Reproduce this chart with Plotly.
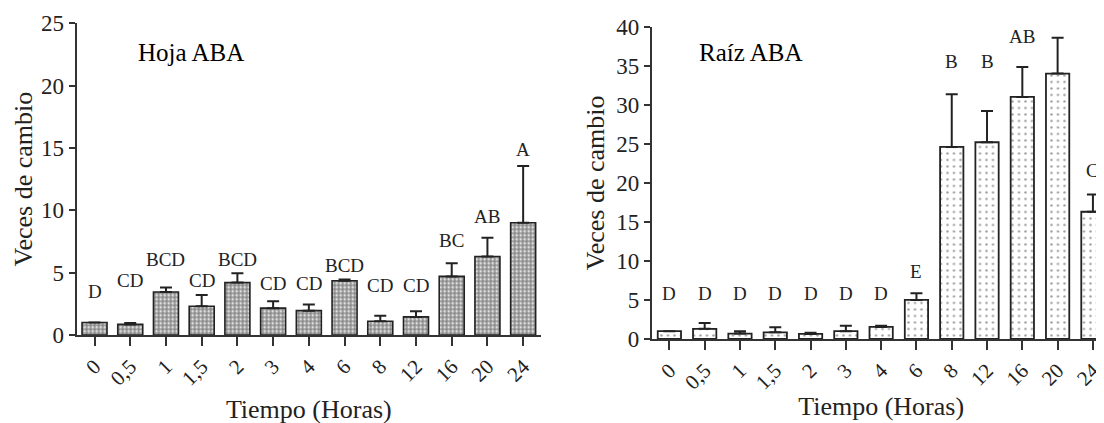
import plotly.graph_objects as go

# ---- data ----
times = ["0", "0,5", "1", "1,5", "2", "3", "4", "6", "8", "12", "16", "20", "24"]

hoja_vals = [1.0, 0.85, 3.45, 2.3, 4.2, 2.15, 1.95, 4.35, 1.1, 1.45, 4.7, 6.3, 9.0]
hoja_err = [0.0, 0.12, 0.35, 0.9, 0.75, 0.55, 0.5, 0.1, 0.45, 0.45, 1.05, 1.5, 4.55]
hoja_letters = ["D", "CD", "BCD", "CD", "BCD", "CD", "CD", "BCD", "CD", "CD", "BC", "AB", "A"]
hoja_letter_y = [3.5, 4.35, 6.05, 4.4, 6.05, 4.15, 4.15, 5.6, 4.0, 4.0, 7.6, 9.5, 14.85]

raiz_vals = [1.0, 1.3, 0.7, 0.85, 0.65, 1.0, 1.55, 5.0, 24.6, 25.2, 31.0, 34.0, 16.3]
raiz_err = [0.0, 0.75, 0.3, 0.65, 0.15, 0.7, 0.15, 0.85, 6.75, 4.0, 3.85, 4.6, 2.2]
raiz_letters = ["D", "D", "D", "D", "D", "D", "D", "E", "B", "B", "AB", "A", "C"]
raiz_letter_y = [5.85, 5.85, 5.85, 5.85, 5.85, 5.85, 5.85, 8.6, 35.6, 35.6, 38.8, 40.2, 21.6]

FONT = "Liberation Serif"
AX = "#333333"
TXT = "#222222"

fig = go.Figure()

fig.add_trace(go.Bar(
    x=times, y=hoja_vals, xaxis="x", yaxis="y", width=0.7,
    marker=dict(color="white", line=dict(color="#222", width=1.6),
                pattern=dict(shape=".", fgcolor="#111", bgcolor="white", size=4, solidity=0.72)),
    error_y=dict(type="data", array=hoja_err, arrayminus=[0]*len(hoja_err), symmetric=False,
                 color="#222", thickness=2, width=6),
    showlegend=False,
))

fig.add_trace(go.Bar(
    x=times, y=raiz_vals, xaxis="x2", yaxis="y2", width=0.66,
    marker=dict(color="white", line=dict(color="#222", width=1.8),
                pattern=dict(shape=".", fgcolor="#444", bgcolor="white", size=6.5, solidity=0.12)),
    error_y=dict(type="data", array=raiz_err, arrayminus=[0]*len(raiz_err), symmetric=False,
                 color="#222", thickness=2, width=6),
    showlegend=False,
))

annotations = []
for i, (lab, ly) in enumerate(zip(hoja_letters, hoja_letter_y)):
    annotations.append(dict(x=i, y=ly, xref="x", yref="y", text=lab, showarrow=False,
                            font=dict(family=FONT, size=19, color=TXT), yanchor="middle"))
for i, (lab, ly) in enumerate(zip(raiz_letters, raiz_letter_y)):
    annotations.append(dict(x=i, y=ly, xref="x2", yref="y2", text=lab, showarrow=False,
                            font=dict(family=FONT, size=19, color=TXT), yanchor="middle"))

annotations.append(dict(x=0.116, y=0.894, xref="paper", yref="paper", text="Hoja ABA",
                        showarrow=False, xanchor="left", yanchor="middle",
                        font=dict(family=FONT, size=25, color="black")))
annotations.append(dict(x=0.624, y=0.894, xref="paper", yref="paper", text="Raíz ABA",
                        showarrow=False, xanchor="left", yanchor="middle",
                        font=dict(family=FONT, size=25, color="black")))

line_common = dict(showline=True, linecolor=AX, linewidth=2, ticks="outside",
                   tickcolor=AX, tickwidth=2, showgrid=False, zeroline=False, automargin=False)
xt_font = dict(family=FONT, size=21, color=TXT)
yt_font = dict(family=FONT, size=23, color=TXT)
title_font = dict(family=FONT, size=26, color=TXT)

fig.update_layout(
    width=1104, height=423,
    margin=dict(l=0, r=0, t=0, b=0, autoexpand=False),
    paper_bgcolor="white", plot_bgcolor="white",
    xaxis=dict(domain=[0.0622, 0.4828], anchor="y", type="category", range=[-0.5, 12.5],
               tickangle=-45, ticklen=9, tickfont=xt_font, **line_common,
               title=dict(text="Tiempo (Horas)", font=title_font, standoff=11)),
    yaxis=dict(domain=[0.2270, 0.9638], anchor="x", range=[0, 25], tickvals=[0, 5, 10, 15, 20, 25],
               ticklen=6, tickfont=yt_font, **line_common,
               title=dict(text="Veces de cambio", font=title_font, standoff=1)),
    xaxis2=dict(domain=[0.5831, 0.9987], anchor="y2", type="category", range=[-0.5, 12.5],
                tickangle=-45, ticklen=9, tickfont=xt_font, **line_common,
                title=dict(text="Tiempo (Horas)", font=title_font, standoff=4)),
    yaxis2=dict(domain=[0.2175, 0.9558], anchor="x2", range=[0, 40],
                tickvals=[0, 5, 10, 15, 20, 25, 30, 35, 40],
                ticklen=6, tickfont=yt_font, **line_common,
                title=dict(text="Veces de cambio", font=title_font, standoff=4)),
    annotations=annotations,
)

fig.write_html("out.html")
